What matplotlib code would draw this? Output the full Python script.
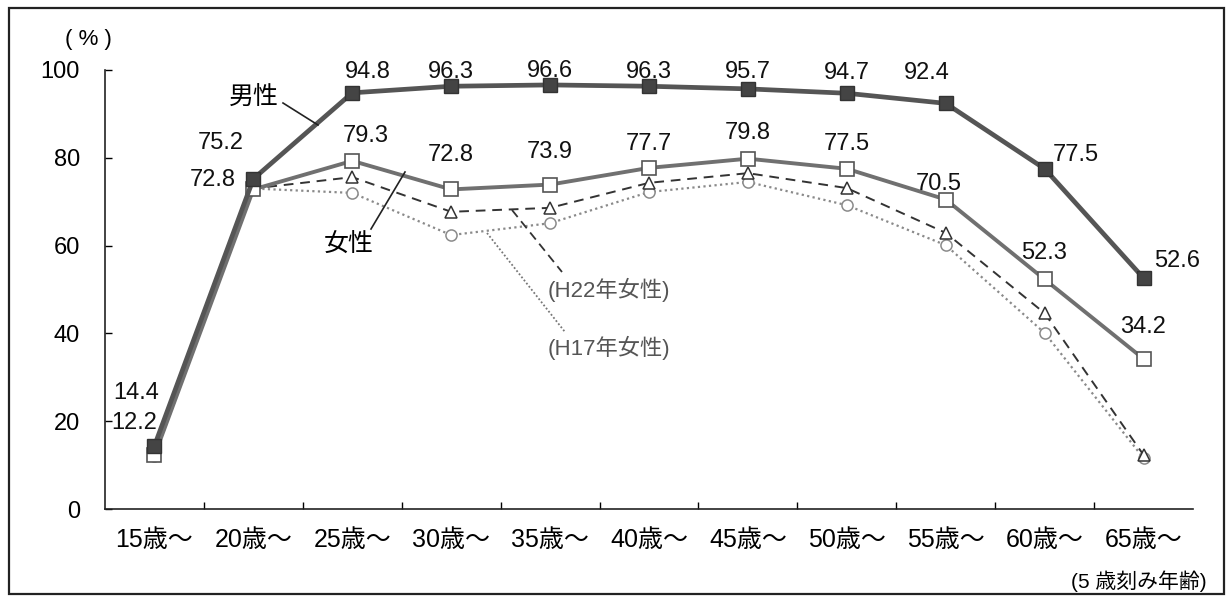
import matplotlib.pyplot as plt
from matplotlib.patches import Rectangle

plt.rcParams['font.family'] = ['Liberation Sans', 'Noto Sans CJK JP']

ages = ['15歳～', '20歳～', '25歳～', '30歳～', '35歳～', '40歳～',
        '45歳～', '50歳～', '55歳～', '60歳～', '65歳～']
male = [14.4, 75.2, 94.8, 96.3, 96.6, 96.3, 95.7, 94.7, 92.4, 77.5, 52.6]
female = [12.2, 72.8, 79.3, 72.8, 73.9, 77.7, 79.8, 77.5, 70.5, 52.3, 34.2]
female_h22 = [12.5, 73.0, 75.6, 67.7, 68.6, 74.3, 76.5, 73.1, 62.9, 44.6, 12.3]
female_h17 = [12.0, 73.0, 72.0, 62.4, 65.1, 72.2, 74.5, 69.2, 60.1, 40.1, 11.6]

# label offsets in pixels (dx, dy up) from each point
male_off = [(-18, 53), (-33, 36), (16, 21), (0, 14), (0, 14), (0, 14),
            (0, 17), (0, 20), (-19, 30), (31, 14), (34, 17)]
female_off = [(-20, 32), (-41, 9), (13, 25), (0, 34), (0, 33), (0, 24),
              (0, 26), (0, 25), (-7, 16), (-1, 26), (-1, 32)]

W, H = 1228, 596
fig = plt.figure(figsize=(W / 100, H / 100), dpi=100)
ax = fig.add_axes([105 / W, (H - 509) / H, (1193 - 105) / W, (509 - 70) / H])

x = list(range(len(ages)))
ax.plot(x, female_h17, color='#8a8a8a', lw=1.6, ls=(0, (1, 1.5)), marker='o',
        ms=8, mfc='white', mec='#8a8a8a', mew=1.1, zorder=2)
ax.plot(x, female_h22, color='#333333', lw=1.4, ls=(0, (5, 3.5)), marker='^',
        ms=8, mfc='white', mec='#333333', mew=1.1, zorder=3)
ax.plot(x, female, color='#707070', lw=2.8, marker='s', ms=10,
        mfc='white', mec='#555555', mew=1.2, zorder=4)
ax.plot(x, male, color='#555555', lw=3.4, marker='s', ms=9.5,
        mfc='#444444', mec='#333333', mew=1.0, zorder=5)

for xi, v, (dx, dy) in zip(x, male, male_off):
    ax.annotate(f'{v:.1f}', (xi, v), xytext=(dx * 0.72, dy * 0.72),
                textcoords='offset points', ha='center', va='center',
                fontsize=17, color='#111111', zorder=6)
for xi, v, (dx, dy) in zip(x, female, female_off):
    ax.annotate(f'{v:.1f}', (xi, v), xytext=(dx * 0.72, dy * 0.72),
                textcoords='offset points', ha='center', va='center',
                fontsize=17, color='#111111', zorder=6)

ax.set_xlim(-0.5, len(ages) - 0.5)
ax.set_ylim(0, 100)
ax.set_yticks([0, 20, 40, 60, 80, 100])
ax.set_xticks([i + 0.5 for i in range(len(ages) - 1)])
ax.set_xticklabels([])
ax.set_xticks(x, minor=True)
ax.set_xticklabels(ages, minor=True)
ax.tick_params(axis='x', which='major', direction='in', length=5, width=1)
ax.tick_params(axis='x', which='minor', length=0, pad=14, labelsize=18)
ax.tick_params(axis='y', direction='in', length=5, width=1, pad=18, labelsize=17)
for s in ['top', 'right']:
    ax.spines[s].set_visible(False)
for s in ['left', 'bottom']:
    ax.spines[s].set_linewidth(1.2)
    ax.spines[s].set_color('#222222')

# series names with leader lines (figure pixel coords)
def px(xp, yp):
    return (xp / W, 1 - yp / H)

fig.text(*px(254, 98), '男性', fontsize=18, ha='center', va='center')
fig.add_artist(plt.Line2D(*zip(px(283, 103), px(318, 125)), color='#222222', lw=1.2))
fig.text(*px(349, 245), '女性', fontsize=18, ha='center', va='center')
fig.add_artist(plt.Line2D(*zip(px(371, 229), px(405, 172)), color='#222222', lw=1.2))
fig.text(*px(548, 290), '(H22年女性)', fontsize=16, ha='left', va='center',
         color='#555555')
fig.add_artist(plt.Line2D(*zip(px(512, 210), px(562, 272)), color='#333333',
                          lw=1.3, ls=(0, (5, 3))))
fig.text(*px(548, 348), '(H17年女性)', fontsize=16, ha='left', va='center',
         color='#555555')
fig.add_artist(plt.Line2D(*zip(px(487, 233), px(565, 332)), color='#777777',
                          lw=1.3, ls=(0, (1, 1.2))))

fig.text(*px(88, 40), '( % )', fontsize=16, ha='center', va='center')
fig.text(*px(1207, 581), '(5 歳刻み年齢)', fontsize=15, ha='right', va='center')

fig.add_artist(Rectangle((9 / W, 2 / H), (1224 - 9) / W, (594 - 8) / H,
                         transform=fig.transFigure, fill=False,
                         edgecolor='#222222', lw=1.6))

fig.savefig('out.png', dpi=100)
